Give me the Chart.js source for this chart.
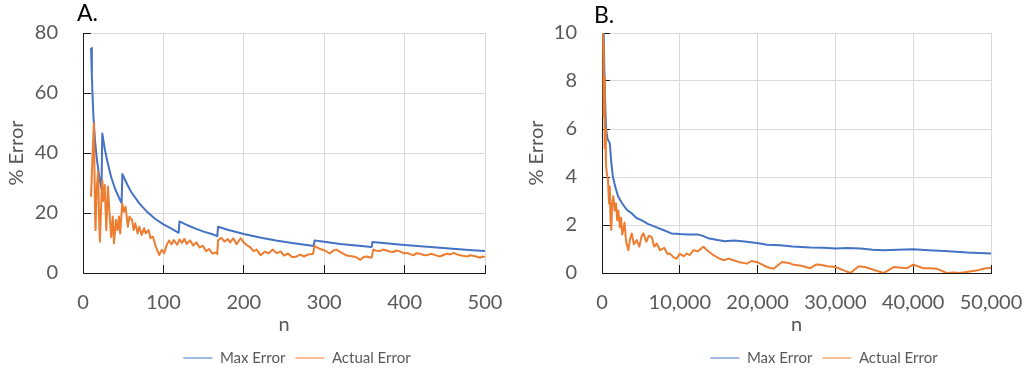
<!DOCTYPE html>
<html>
<head>
<meta charset="utf-8">
<script src="https://cdn.jsdelivr.net/npm/chart.js@4"></script>
<style>
  body { margin: 0; background: #fff; }
  #wrap { position: relative; width: 1027px; height: 373px; }
  canvas { position: absolute; top: 0; }
  #chartA { left: 0; }
  #chartB { left: 520px; }
</style>
</head>
<body>
<div id="wrap">
  <canvas id="chartA" width="515" height="373"></canvas>
  <canvas id="chartB" width="507" height="373"></canvas>
</div>
<script>
// values

// Panel A (n up to 500)
const nMaxA = [10, 11, 12, 13, 15, 17, 20, 23, 24, 27, 30, 35, 40, 45, 48, 49, 55, 60, 70, 80, 90, 100, 110, 119,
  120, 130, 140, 150, 160, 167, 168, 180, 200, 220, 240, 260, 287, 288, 300, 320, 340, 359,
  360, 380, 400, 420, 440, 460, 480, 500];
const maxErrA = [75, 66, 58, 52, 44, 38.5, 32.5, 28, 46.5, 41.5, 37.5, 32, 28, 25, 23.3, 33, 29.5, 27, 23.2, 20.3, 18, 16.2, 14.8, 13.4,
  17.2, 15.9, 14.8, 13.8, 13, 12.3, 15.4, 14.4, 13, 11.8, 10.8, 10, 9, 10.8, 10.4, 9.7, 9.2, 8.7,
  10.3, 9.8, 9.3, 8.9, 8.5, 8.1, 7.7, 7.3];

const nActA = [10, 12, 13.5, 15, 15.6, 17, 18.8, 20, 21, 23, 24, 25, 27, 29, 31, 33, 35, 37, 38.5, 41, 43, 44.7, 46.3, 48.8,
  50.8, 52.9, 55.8, 57.8, 61, 63, 65, 68, 70, 73, 76, 78, 81.6, 84, 87, 90.6, 94.7, 98, 101, 104, 107, 110,
  113, 117, 120, 123, 126, 129, 133, 137, 141, 145, 149, 153, 157, 161, 165, 167, 168, 172, 176, 180, 183,
  187, 191, 196, 199, 203, 208, 212, 216, 221, 226, 231, 236, 241, 246, 250, 255, 260, 265, 270, 275, 280,
  286, 288, 294, 300, 307, 311, 315, 322, 328, 336, 340, 345, 349, 353, 359, 361, 365, 369, 373, 377, 382,
  386, 390, 394, 399, 403, 407, 411, 415, 419, 424, 428, 432, 436, 440, 444, 448, 453, 457, 461, 465, 469,
  474, 478, 482, 486, 490, 494, 497, 500];
const actErrA = [25.4, 40, 49.9, 20, 14.3, 28, 33.8, 18, 10.4, 26, 31, 24, 29.3, 14.3, 28.8, 20, 12, 18.8, 9.9, 17.7, 14.3, 18.8, 13.2, 23.2,
  20.4, 22.1, 15.4, 18.8, 17.7, 14.3, 16.6, 13.2, 15.4, 12.7, 14.9, 13.2, 14.3, 11.6, 12.1, 8.8, 6, 7.7, 6.6, 9.3, 10.8, 9.6,
  11, 9.4, 11.2, 10, 11.4, 9.7, 10.9, 9.2, 10.2, 8.5, 9.1, 7.3, 8, 6.5, 6.8, 6.3, 10.9, 11.7, 10.5, 11.3, 10.2,
  11.6, 9.6, 11.6, 10.5, 9.4, 8.6, 7.3, 7.8, 5.9, 7.1, 6.6, 7.8, 6.6, 7.2, 5.8, 6.5, 5.3, 5.4, 6.1, 5.5, 6.2,
  6.3, 9, 8.1, 7.6, 6.5, 7.4, 7.8, 6.7, 5.8, 5.5, 5.2, 4.4, 5.3, 5.5, 5.1, 7.8, 7.4, 7.3, 7.8, 7.6, 7.1,
  7, 7.5, 7.2, 6.6, 6.7, 6.3, 5.9, 6.6, 6.4, 6, 5.9, 6.4, 6.2, 5.8, 5.5, 6, 6.4, 6.2, 6.7, 6.2, 5.9,
  5.7, 5.5, 5.9, 5.7, 5.4, 5.1, 5.5, 5.3];

// Panel B (n up to 50,000)
const nMaxB = [100, 200, 300, 400, 520, 700, 1000, 1200, 1400, 1700, 2060, 2500, 2900, 3300, 3780, 4400, 5060, 5900,
  6780, 7800, 8920, 10000, 11000, 12360, 13040, 13640, 14500, 15790, 17000, 18620, 20330, 21200, 22900,
  24500, 26770, 28500, 30000, 31500, 33200, 34800, 36200, 38000, 40000, 42000, 43950, 45500, 46960, 48500, 50000];
const maxErrB = [14, 10.2, 8.5, 7.2, 6, 5.6, 5.4, 4.6, 4, 3.6, 3.2, 2.95, 2.76, 2.6, 2.5, 2.3, 2.2, 2.05,
  1.93, 1.8, 1.65, 1.62, 1.6, 1.6, 1.54, 1.45, 1.4, 1.32, 1.35, 1.3, 1.23, 1.18, 1.16,
  1.1, 1.06, 1.05, 1.02, 1.04, 1.02, 0.97, 0.95, 0.97, 0.99, 0.95, 0.92, 0.89, 0.85, 0.83, 0.81];

const nActB = [80, 150, 220, 280, 350, 430, 500, 600, 770, 900, 1000, 1100, 1200, 1300, 1460, 1620, 1800, 1950, 2100,
  2300, 2450, 2600, 2740, 2900, 3100, 3390, 3600, 3820, 4100, 4460, 4800, 5100, 5320, 5700, 6000, 6390, 6700,
  7030, 7460, 8000, 8400, 8740, 9200, 9600, 10000, 10500, 10900, 11300, 11750, 12300, 13040, 13500, 14330,
  15000, 15620, 16300, 16900, 17700, 18620, 19200, 19900, 20330, 21200, 22050, 23130, 24000, 24630, 25600,
  26770, 27500, 28060, 29000, 30000, 31000, 31930, 33000, 33800, 34500, 35400, 36200, 37000, 37500, 38500,
  39200, 40000, 40600, 41300, 42200, 43000, 43600, 44300, 45200, 46000, 47000, 48150, 49000, 50000];
const actErrB = [11, 9.5, 6.5, 8.2, 5.2, 6, 4.6, 4.2, 3.9, 2.9, 3.6, 2.2, 1.8, 2.9, 3.2, 2.6, 2.9, 2.2, 2.6,
  1.9, 2.3, 1.6, 1.8, 2.1, 1.3, 0.95, 1.4, 1.65, 1.2, 1.37, 1.1, 1.55, 1.65, 1.3, 1.55, 1.5, 1.1,
  1.23, 0.95, 1.05, 0.8, 0.81, 0.65, 0.6, 0.8, 0.7, 0.81, 0.75, 0.95, 0.9, 1.09, 0.95, 0.74,
  0.62, 0.53, 0.6, 0.53, 0.45, 0.39, 0.5, 0.46, 0.39, 0.25, 0.18, 0.46, 0.42, 0.34, 0.3,
  0.2, 0.35, 0.34, 0.28, 0.25, 0.12, 0, 0.28, 0.25, 0.18, 0.08, 0, 0.15, 0.25, 0.22,
  0.2, 0.35, 0.28, 0.2, 0.2, 0.18, 0.1, 0, 0.02, 0, 0.05, 0.1, 0.18, 0.22];

const BLUE = '#4472C4';
const ORANGE = '#ED7D31';
const TEXT = '#595959';
const FONT = "Lato, 'Open Sans', sans-serif";

function zip(xs, ys) {
  return xs.map((x, i) => ({ x: x, y: ys[i] }));
}

// panel letter + legend nudge (legend is centred under the plot, not the canvas)
const panelPlugin = {
  id: 'panel',
  afterLayout(chart, args, opts) {
    const lg = chart.legend;
    if (!lg) return;
    const dx = opts.legendCenter - (lg.left + lg.right) / 2;
    lg.left += dx;
    lg.right += dx;
    lg.top += opts.legendDy;
    lg.bottom += opts.legendDy;
  },
  afterDraw(chart, args, opts) {
    const ctx = chart.ctx;
    ctx.save();
    ctx.font = '23px ' + FONT;
    ctx.fillStyle = '#000';
    ctx.textBaseline = 'middle';
    ctx.fillText(opts.label, opts.labelX, opts.labelY);
    ctx.restore();
  }
};

function makeChart(id, p) {
  const axisGrid = {
    color: '#d9d9d9',
    lineWidth: 1,
    tickColor: '#1a1a1a',
    tickLength: -8,   // Excel style ticks pointing into the plot
    tickWidth: 1
  };
  return new Chart(document.getElementById(id), {
    type: 'line',
    data: {
      datasets: [
        { label: 'Max Error', data: zip(p.nMax, p.max), borderColor: BLUE, backgroundColor: BLUE, order: 1 },
        { label: 'Actual Error', data: zip(p.nAct, p.act), borderColor: ORANGE, backgroundColor: ORANGE, order: 0 }
      ]
    },
    options: {
      responsive: false,
      animation: false,
      locale: 'en-US',
      events: [],
      layout: { padding: { top: 33, right: p.padRight, bottom: 0, left: 0 } },
      elements: {
        point: { radius: 0 },
        line: { borderWidth: 2, tension: 0, borderJoinStyle: 'round' }
      },
      scales: {
        x: {
          type: 'linear',
          min: 0,
          max: p.xMax,
          grid: axisGrid,
          border: { color: '#1a1a1a', width: 1 },
          ticks: {
            stepSize: p.xStep,
            autoSkip: false,
            maxRotation: 0,
            padding: 26,
            color: TEXT,
            font: { family: FONT, size: 20 }
          },
          title: {
            display: true,
            text: 'n',
            color: TEXT,
            font: { family: FONT, size: 20 },
            padding: { top: 0, bottom: 1 }
          },
          afterFit: function (scale) {
            scale.height = 65;
            // edge room comes from layout.padding instead
            scale.paddingLeft = 0;
            scale.paddingRight = 0;
          }
        },
        y: {
          min: 0,
          max: p.yMax,
          grid: axisGrid,
          border: { color: '#1a1a1a', width: 1 },
          ticks: {
            stepSize: p.yStep,
            padding: 33,
            color: TEXT,
            font: { family: FONT, size: 20 }
          },
          title: {
            display: true,
            text: '% Error',
            color: TEXT,
            font: { family: FONT, size: 20 },
            padding: { top: 5, bottom: 0 }
          },
          afterFit: function (scale) {
            scale.width = p.yWidth;
            scale.paddingTop = 0;
            scale.paddingBottom = 0;
          }
        }
      },
      plugins: {
        tooltip: { enabled: false },
        legend: {
          position: 'bottom',
          labels: {
            usePointStyle: true,
            pointStyle: 'line',
            pointStyleWidth: 29,
            padding: 10,
            color: TEXT,
            font: { family: FONT, size: 15 },
            sort: (a, b) => a.datasetIndex - b.datasetIndex
          }
        },
        panel: {
          label: p.label,
          labelX: p.labelX,
          labelY: p.labelY,
          legendCenter: p.legendCenter,
          legendDy: 2.5
        }
      }
    },
    plugins: [panelPlugin]
  });
}

makeChart('chartA', {
  nMax: nMaxA, max: maxErrA, nAct: nActA, act: actErrA,
  xMax: 500, xStep: 100, yMax: 80, yStep: 20,
  yWidth: 83, padRight: 30,
  label: 'A.', labelX: 77, labelY: 14,
  legendCenter: 297
});

makeChart('chartB', {
  nMax: nMaxB, max: maxErrB, nAct: nActB, act: actErrB,
  xMax: 50000, xStep: 10000, yMax: 10, yStep: 2,
  yWidth: 82, padRight: 36,
  label: 'B.', labelX: 74, labelY: 16,
  legendCenter: 304
});
</script>
</body>
</html>
